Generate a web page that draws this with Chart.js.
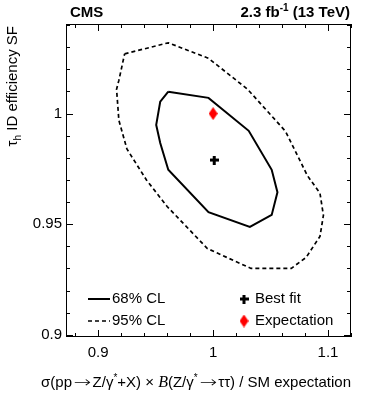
<!DOCTYPE html>
<html>
<head>
<meta charset="utf-8">
<script src="https://cdn.jsdelivr.net/npm/chart.js@4"></script>
<style>
  body { margin: 0; background: #fff; }
  #wrap { position: relative; width: 366px; height: 395px; font-family: "Liberation Sans", Arial, sans-serif; color: #000; }
  #c { position: absolute; left: 0; top: 0; }
  .lbl { position: absolute; white-space: nowrap; font-size: 15px; line-height: 18px; }
  sup { font-size: 10px; line-height: 0; vertical-align: 6px; }
  sub { font-size: 10px; line-height: 0; vertical-align: -4px; }
  .ital { font-family: "Liberation Serif", serif; font-style: italic; font-size: 16px; }
  .arr { display: inline-block; font-family: "DejaVu Sans", sans-serif; font-weight: 200; transform: scaleX(1.4); margin: 0 4px; }
</style>
</head>
<body>
<div id="wrap">
  <canvas id="c" width="366" height="395"></canvas>
  <div class="lbl" style="left:70px; top:3px; font-weight:bold;">CMS</div>
  <div class="lbl" style="right:16px; top:3px; font-weight:bold;">2.3 fb<sup>-1</sup> (13 TeV)</div>
  <div class="lbl" style="left:3px; top:226px; width:200px; text-align:right; transform-origin:0 0; transform:rotate(-90deg);">τ<sub>h</sub> ID efficiency SF</div>
  <div class="lbl" style="right:15px; top:373px;">σ(pp<span class="arr">→</span>Z/γ<sup>*</sup>+X) × <span class="ital">B</span>(Z/γ<sup>*</sup><span class="arr">→</span>ττ) / SM expectation</div>
</div>
<script>
// likelihood contours (x = xsec ratio, y = tau ID SF)
const cl68X = [0.961, 0.996, 1.031, 1.051, 1.056, 1.051, 1.032, 0.996, 0.961, 0.954, 0.9505, 0.954, 0.961];
const cl68Y = [1.0099, 1.0071, 0.9922, 0.9746, 0.9644, 0.9542, 0.9488, 0.9554, 0.9746, 0.9867, 0.9949, 1.0054, 1.0099];
const cl95X = [0.923, 0.961, 0.996, 1.030, 1.063, 1.082, 1.093, 1.096, 1.093, 1.081, 1.068, 1.033, 0.995, 0.960, 0.942, 0.925, 0.918, 0.916, 0.918, 0.923];
const cl95Y = [1.027, 1.032, 1.025, 1.011, 0.992, 0.972, 0.964, 0.954, 0.9445, 0.935, 0.930, 0.930, 0.939, 0.958, 0.970, 0.984, 0.997, 1.011, 1.015, 1.027];
const bestFit = [{ x: 1.001, y: 0.979 }];
const expectation = [{ x: 1.0, y: 1.0 }];

const xMajor = [0.9, 1.0, 1.1];
const xMinor = [0.88, 0.92, 0.94, 0.96, 0.98, 1.02, 1.04, 1.06, 1.08, 1.12];
const yMajor = [0.9, 0.95, 1.0];
const yMinor = [0.91, 0.92, 0.93, 0.94, 0.96, 0.97, 0.98, 0.99, 1.01, 1.02, 1.03, 1.04];

const FONT = "'Liberation Sans', Arial, sans-serif";

// marker images
const cross = document.createElement("canvas");
cross.width = 9; cross.height = 9;
(c => { c.fillStyle = "#000"; c.fillRect(0, 3, 9, 3); c.fillRect(3, 0, 3, 9); })(cross.getContext("2d"));
const diamond = document.createElement("canvas");
diamond.width = 9; diamond.height = 13;
(c => { c.fillStyle = "#ff0000"; c.beginPath(); c.moveTo(4.5, 0); c.lineTo(9, 6.5); c.lineTo(4.5, 13); c.lineTo(0, 6.5); c.closePath(); c.fill(); })(diamond.getContext("2d"));

const pts = (xs, ys) => xs.map((x, i) => ({ x, y: ys[i] }));

// frame with inward ticks on all four sides, plus legend
const framePlugin = {
  id: "frame",
  afterDraw(chart) {
    const { ctx, chartArea: a, scales: { x, y } } = chart;
    ctx.save();
    ctx.strokeStyle = "#000";
    ctx.lineWidth = 1;
    ctx.strokeRect(a.left + 0.5, a.top + 0.5, a.right - a.left - 1, a.bottom - a.top - 1);
    ctx.beginPath();
    const xt = (v, len) => {
      const p = Math.round(x.getPixelForValue(v)) + 0.5;
      ctx.moveTo(p, a.bottom); ctx.lineTo(p, a.bottom - len);
      ctx.moveTo(p, a.top); ctx.lineTo(p, a.top + len);
    };
    const yt = (v, len) => {
      const p = Math.round(y.getPixelForValue(v)) + 0.5;
      ctx.moveTo(a.left, p); ctx.lineTo(a.left + len, p);
      ctx.moveTo(a.right, p); ctx.lineTo(a.right - len, p);
    };
    xMajor.forEach(v => xt(v, 7)); xMinor.forEach(v => xt(v, 4));
    yMajor.forEach(v => yt(v, 7)); yMinor.forEach(v => yt(v, 4));
    ctx.stroke();

    // legend
    ctx.lineWidth = 2;
    ctx.beginPath(); ctx.moveTo(88, 299); ctx.lineTo(110, 299); ctx.stroke();
    ctx.lineWidth = 1.7; ctx.setLineDash([4, 3]);
    ctx.beginPath(); ctx.moveTo(88, 321); ctx.lineTo(110, 321); ctx.stroke();
    ctx.setLineDash([]);
    ctx.drawImage(cross, 244 - 4.5, 299 - 4.5);
    ctx.drawImage(diamond, 244 - 4.5, 321 - 6.5);
    ctx.fillStyle = "#000";
    ctx.font = `15px ${FONT}`;
    ctx.textBaseline = "middle";
    ctx.fillText("68% CL", 112, 299);
    ctx.fillText("95% CL", 112, 321);
    ctx.fillText("Best fit", 255, 299);
    ctx.fillText("Expectation", 255, 321);
    ctx.restore();
  },
};

const tickFont = { family: FONT, size: 15 };

new Chart(document.getElementById("c"), {
  type: "scatter",
  data: {
    datasets: [
      { label: "68% CL", data: pts(cl68X, cl68Y), showLine: true, borderColor: "#000", borderWidth: 2,
        pointRadius: 0, tension: 0, fill: false },
      { label: "95% CL", data: pts(cl95X, cl95Y), showLine: true, borderColor: "#000", borderWidth: 1.7,
        borderDash: [4, 3], pointRadius: 0, tension: 0, fill: false },
      { label: "Best fit", data: bestFit, pointStyle: cross, pointRadius: 5 },
      { label: "Expectation", data: expectation, pointStyle: diamond, pointRadius: 6 },
    ],
  },
  options: {
    responsive: false, animation: false, events: [],
    layout: { padding: { left: 0, top: 24, right: 15, bottom: 0 } },
    plugins: { legend: { display: false }, tooltip: { enabled: false } },
    scales: {
      x: {
        type: "linear", min: 0.872, max: 1.12,
        grid: { display: false, drawTicks: false }, border: { display: false },
        ticks: { font: tickFont, color: "#000", padding: 7, maxRotation: 0, autoSkip: false, callback: v => String(v) },
        afterBuildTicks: s => { s.ticks = xMajor.map(v => ({ value: v })); },
        afterFit: s => { s.height = 58; },
      },
      y: {
        type: "linear", min: 0.899, max: 1.0405,
        grid: { display: false, drawTicks: false }, border: { display: false },
        ticks: { font: tickFont, color: "#000", padding: 4, autoSkip: false, callback: v => String(v) },
        afterBuildTicks: s => { s.ticks = yMajor.map(v => ({ value: v })); },
        afterFit: s => { s.width = 66; },
      },
    },
  },
  plugins: [framePlugin],
});
</script>
</body>
</html>
